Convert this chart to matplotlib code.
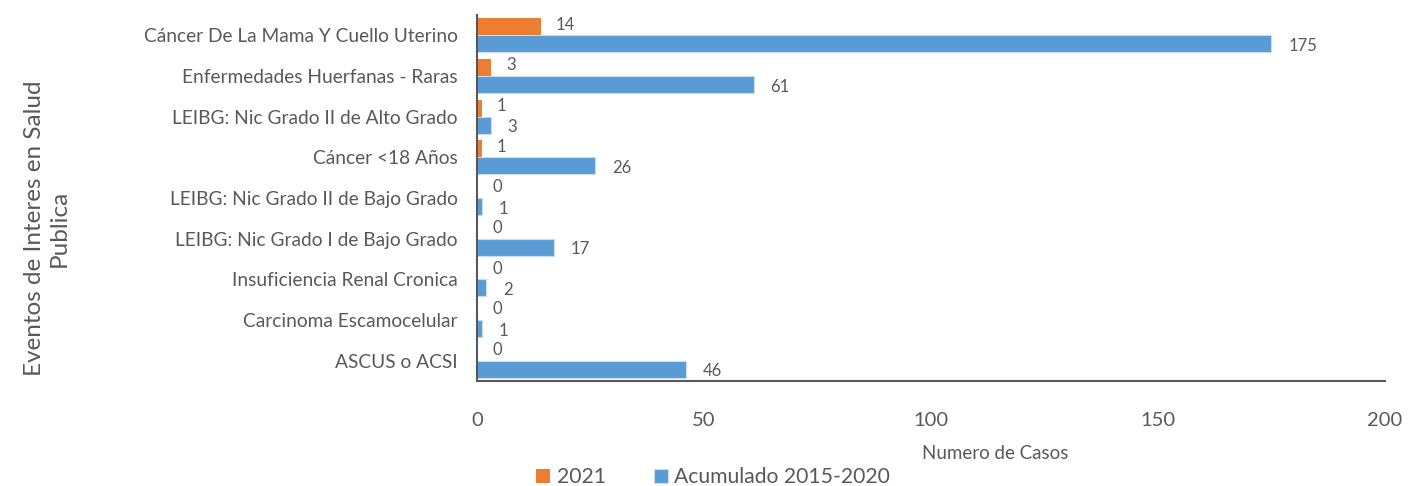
import matplotlib.pyplot as plt
import numpy as np

categorias = [
    "Cáncer De La Mama Y Cuello Uterino",
    "Enfermedades Huerfanas - Raras",
    "LEIBG: Nic Grado II de Alto Grado",
    "Cáncer <18 Años",
    "LEIBG: Nic Grado II de Bajo Grado",
    "LEIBG: Nic Grado I de Bajo Grado",
    "Insuficiencia Renal Cronica",
    "Carcinoma Escamocelular",
    "ASCUS o ACSI",
]
casos_2021 = [14, 3, 1, 1, 0, 0, 0, 0, 0]
acumulado = [175, 61, 3, 26, 1, 17, 2, 1, 46]

plt.rcParams['font.family'] = ['Lato', 'DejaVu Sans']
gris = '#595959'

fig = plt.figure(figsize=(14.18, 4.86), dpi=100)
ax = fig.add_axes([0.3364, 0.216, 0.6403, 0.753])

n = len(categorias)
y = np.arange(n)[::-1]
h = 0.42
b1 = ax.barh(y + h / 2, casos_2021, height=h, color='#ED7D31', label='2021')
b2 = ax.barh(y - h / 2, acumulado, height=h, color='#5B9BD5', edgecolor='#c8dcef',
             linewidth=0.8, label='Acumulado 2015-2020')

# etiquetas de datos
for yi, v in zip(y, casos_2021):
    ax.annotate(str(v), (v, yi + h / 2 + 0.05), xytext=(11, 0), textcoords='offset points',
                va='center', ha='left', fontsize=12, color=gris)
for yi, v in zip(y, acumulado):
    ax.annotate(str(v), (v, yi - h / 2 - 0.05), xytext=(12, 0), textcoords='offset points',
                va='center', ha='left', fontsize=12, color=gris)

ax.set_xlim(0, 200)
ax.set_ylim(-0.5, n - 0.5)
ax.set_xticks([0, 50, 100, 150, 200])
ax.set_yticks(y)
ax.set_yticklabels(categorias, fontsize=13.8, color=gris)
ax.tick_params(axis='x', length=0, pad=22, labelsize=14.5, labelcolor=gris)
ax.tick_params(axis='y', length=0, pad=14)
for s in ['top', 'right']:
    ax.spines[s].set_visible(False)
ax.spines['left'].set_color(gris)
ax.spines['bottom'].set_color(gris)
ax.spines['left'].set_linewidth(1.5)
ax.spines['bottom'].set_linewidth(1.5)

fig.text(0.702, 0.066, "Numero de Casos", ha='center', va='center', fontsize=13.5, color=gris)
fig.text(0.033, 0.53, "Eventos de Interes en Salud\nPublica", rotation=90, ha='center',
         va='center', fontsize=17.5, color=gris, linespacing=1.2)

fig.legend(handles=[b1, b2], loc='center', bbox_to_anchor=(0.503, 0.018), ncol=2, frameon=False,
           fontsize=15.2, labelcolor=gris, handlelength=0.65, handleheight=0.65,
           handletextpad=0.3, columnspacing=2.3)

fig.savefig('out.png', dpi=100)
